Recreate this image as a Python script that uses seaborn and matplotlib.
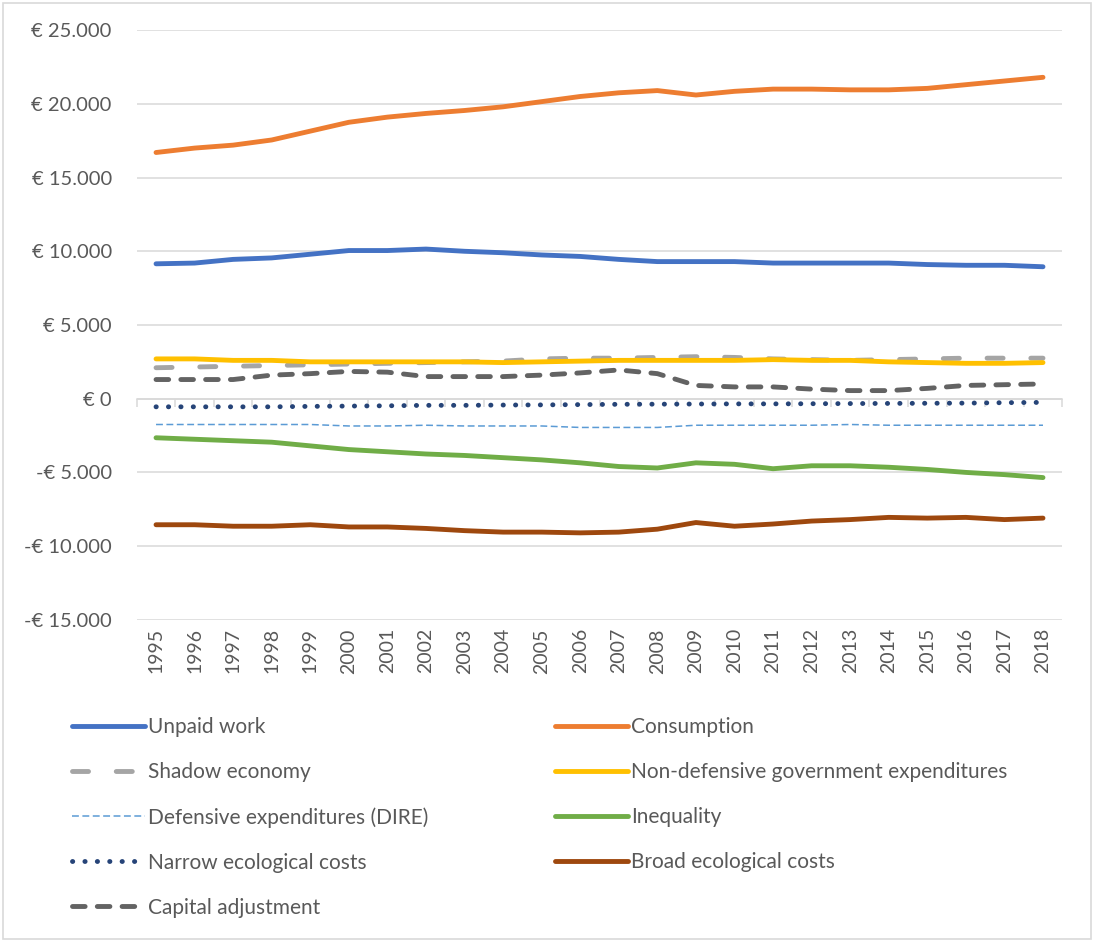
import numpy as np
import pandas as pd
import matplotlib
matplotlib.use("Agg")
import matplotlib.pyplot as plt
import matplotlib.patches as patches
from matplotlib.ticker import FuncFormatter
import seaborn as sns

# data (euro per capita)
years = list(range(1995, 2019))

unpaid_work = [9150, 9200, 9450, 9550, 9800, 10050, 10050, 10150, 10000, 9900, 9750, 9650,
               9450, 9300, 9300, 9300, 9200, 9200, 9200, 9200, 9100, 9050, 9050, 8950]
consumption = [16700, 17000, 17200, 17550, 18150, 18750, 19100, 19350, 19550, 19800, 20150, 20500,
               20750, 20900, 20600, 20850, 21000, 21000, 20950, 20950, 21050, 21300, 21550, 21800]
shadow_economy = [2100, 2150, 2200, 2250, 2300, 2350, 2400, 2450, 2500, 2550, 2700, 2750,
                  2750, 2800, 2850, 2800, 2700, 2650, 2600, 2650, 2700, 2750, 2750, 2750]
non_defensive = [2700, 2700, 2600, 2600, 2500, 2500, 2500, 2500, 2500, 2450, 2500, 2550,
                 2600, 2600, 2600, 2600, 2650, 2600, 2600, 2500, 2450, 2400, 2400, 2450]
defensive_dire = [-1750, -1750, -1750, -1750, -1750, -1850, -1850, -1800, -1850, -1850, -1850, -1950,
                  -1950, -1950, -1800, -1800, -1800, -1800, -1750, -1800, -1800, -1800, -1800, -1800]
inequality = [-2650, -2750, -2850, -2950, -3200, -3450, -3600, -3750, -3850, -4000, -4150, -4350,
              -4600, -4700, -4350, -4450, -4750, -4550, -4550, -4650, -4800, -5000, -5150, -5350]
narrow_eco = [-550, -550, -550, -550, -520, -500, -480, -450, -450, -430, -420, -400,
              -380, -370, -360, -350, -350, -340, -330, -320, -310, -300, -270, -250]
broad_eco = [-8550, -8550, -8650, -8650, -8550, -8700, -8700, -8800, -8950, -9050, -9050, -9100,
             -9050, -8850, -8400, -8650, -8500, -8300, -8200, -8050, -8100, -8050, -8200, -8100]
capital_adj = [1300, 1300, 1300, 1600, 1700, 1850, 1800, 1500, 1500, 1500, 1600, 1750,
               1950, 1700, 900, 800, 800, 650, 550, 550, 700, 900, 950, 1000]

series_names = ["Unpaid work", "Consumption", "Shadow economy",
                "Non-defensive government expenditures", "Defensive expenditures (DIRE)",
                "Inequality", "Narrow ecological costs", "Broad ecological costs",
                "Capital adjustment"]
series_values = [unpaid_work, consumption, shadow_economy, non_defensive, defensive_dire,
                 inequality, narrow_eco, broad_eco, capital_adj]
series_colors = ["#4472C4", "#ED7D31", "#A5A5A5", "#FFC000", "#5B9BD5",
                 "#70AD47", "#264478", "#9E480E", "#636363"]

# line styles (width, dash pattern, capstyle)
styles = {
    "Shadow economy": dict(lw=3.5, ls=(0, (3.3, 5.7)), cap="round"),
    "Defensive expenditures (DIRE)": dict(lw=1.1, ls=(0, (4.5, 2.3)), cap="butt"),
    "Narrow ecological costs": dict(lw=3.5, ls=(0, (0.05, 2.5)), cap="round"),
    "Capital adjustment": dict(lw=3.5, ls=(0, (2.6, 2.5)), cap="round"),
}

sns.set_theme(style="white")
plt.rcParams['font.family'] = ['Lato', 'DejaVu Sans']

text_color = "#595959"
grid_color = "#d9d9d9"

fig = plt.figure(figsize=(10.94, 9.42), dpi=100)
ax = fig.add_axes([0.125, 0.342, 0.846, 0.626])

for name, vals, col in zip(series_names, series_values, series_colors):
    st = styles.get(name, dict(lw=3.5, ls="-", cap="round"))
    sns.lineplot(x=years, y=vals, ax=ax, color=col, label=name)
    line = ax.lines[-1]
    line.set_linewidth(st["lw"])
    line.set_linestyle(st["ls"])
    line.set_dash_capstyle(st["cap"])
    line.set_solid_capstyle("round")

ax.set_xlim(1994.5, 2018.5)
ax.set_ylim(-15000, 25000)
ax.set_yticks(np.arange(-15000, 25001, 5000))
ax.set_xticks(years)
ax.set_xticklabels([str(y) for y in years], rotation=90)


def euro(v, pos):
    v = int(round(v))
    s = f"{abs(v):,}".replace(",", ".")
    return f"€ {s}" if v >= 0 else f"-€ {s}"


ax.yaxis.set_major_formatter(FuncFormatter(euro))
ax.tick_params(axis="y", length=0, pad=18, labelsize=14.5, labelcolor=text_color)
ax.tick_params(axis="x", length=0, pad=6, labelsize=14, labelcolor=text_color)
ax.grid(axis="y", color=grid_color, lw=1.1)
ax.grid(axis="x", visible=False)
for sp in ax.spines.values():
    sp.set_visible(False)
ax.set_xlabel("")
ax.set_ylabel("")

# category axis at zero with tick marks between categories
zero_pos = (0 - (-15000)) / (25000 - (-15000))
sec = ax.secondary_xaxis(zero_pos)
sec.set_xticks(np.arange(1994.5, 2019, 1))
sec.set_xticklabels([])
sec.tick_params(axis="x", direction="out", length=6, color=grid_color, width=1.1)
sec.spines["bottom"].set_color(grid_color)
sec.spines["bottom"].set_linewidth(1.1)
sec.set_zorder(0.5)

# legend, row-wise order like the original
handles, labels = ax.get_legend_handles_labels()
order = [0, 2, 4, 6, 8, 1, 3, 5, 7]
ax.legend([handles[i] for i in order], [labels[i] for i in order],
          ncol=2, loc="upper left", bbox_to_anchor=(-0.0702, -0.165),
          frameon=False, fontsize=15, labelcolor=text_color,
          borderaxespad=0, borderpad=0,
          handlelength=3.5, handletextpad=0.15, columnspacing=6.1,
          labelspacing=1.2)

fig.add_artist(patches.Rectangle((0.003, 0.003), 0.994, 0.994, transform=fig.transFigure,
                                 fill=False, edgecolor=grid_color, lw=1.2))

fig.savefig("out.png", dpi=100, facecolor="white")
